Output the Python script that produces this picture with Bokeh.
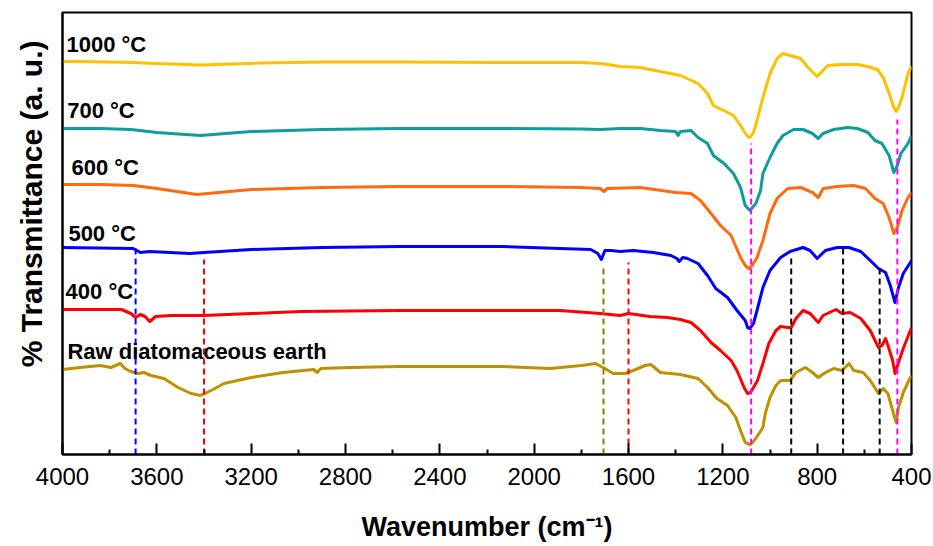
from bokeh.plotting import figure
from bokeh.models import Range1d, FixedTicker, ColumnDataSource, Title
from bokeh.core.properties import value
from bokeh.embed import file_html
from bokeh.resources import INLINE

# ---------------- data (wavenumber cm-1, offset transmittance a.u.) ----------------
wn_1000 = [4000, 3920, 3710, 3600, 3415, 3160, 2900, 2570, 2140, 1800, 1720, 1660, 1635, 1550, 1465,
           1380, 1305, 1265, 1240, 1195, 1155, 1125, 1110, 1095, 1085, 1070, 1055, 1030, 1000, 970,
           945, 915, 870, 835, 800, 775, 755, 700, 630, 585, 545, 520, 495, 475, 465, 455, 440, 415, 400]
t_1000 = [393, 393, 392, 391, 389.5, 391.5, 392.5, 392.5, 392, 392, 391, 389, 388, 387, 383,
          379, 371, 361, 349, 344, 339, 329, 323, 318, 317, 322, 334, 357, 381, 396,
          401, 399, 396, 386, 378, 384, 389, 390, 390, 388, 385, 377, 361, 347, 343, 347, 357, 381, 388]

wn_700 = [4000, 3840, 3710, 3600, 3415, 3200, 2900, 2570, 2140, 1800, 1720, 1635, 1550, 1465, 1400,
          1390, 1380, 1335, 1305, 1265, 1240, 1195, 1155, 1125, 1105, 1085, 1060, 1040, 1030, 1000,
          970, 945, 900, 860, 820, 795, 775, 730, 670, 630, 585, 555, 525, 495, 475, 460, 445, 415, 400]
t_700 = [326, 326, 325, 322, 319, 323, 325, 326, 326, 325.5, 325, 326, 326, 324, 323,
         319, 323, 324, 317, 311, 299, 291, 281, 267, 249, 244, 251, 264, 281, 297,
         311, 319, 325, 325, 321, 316, 321, 325, 327, 326, 322, 314, 311, 299, 282, 289, 301, 311, 319]

wn_600 = [4000, 3840, 3700, 3600, 3430, 3200, 2900, 2570, 2140, 1800, 1720, 1705, 1690, 1550, 1400,
          1335, 1295, 1250, 1210, 1165, 1125, 1105, 1090, 1075, 1055, 1030, 1000, 970, 925, 870,
          820, 795, 775, 715, 645, 595, 555, 520, 495, 475, 460, 440, 415, 400]
t_600 = [270, 270, 269, 266, 260, 265, 267, 268, 268, 267, 266, 263, 266, 267, 262,
         261, 254, 241, 229, 219, 197, 189, 186, 189, 197, 214, 241, 256, 266, 267,
         262, 257, 266, 268, 269, 266, 256, 251, 237, 221, 227, 244, 257, 262]

wn_500 = [4000, 3700, 3670, 3630, 3460, 3400, 3200, 2900, 2570, 2140, 1890, 1760, 1730, 1715, 1700,
          1675, 1635, 1580, 1495, 1420, 1395, 1385, 1370, 1350, 1305, 1265, 1230, 1180, 1140, 1105,
          1095, 1085, 1070, 1055, 1030, 1000, 955, 915, 860, 830, 800, 765, 715, 665, 615,
          575, 540, 510, 490, 470, 455, 435, 405, 400]
t_500 = [207, 206, 202, 203, 201, 202, 205, 207, 208, 208, 206, 205, 201, 195, 204,
         204, 203, 204, 202, 199, 196, 193, 197, 196, 191, 179, 166, 157, 144, 134,
         127, 126, 131, 144, 167, 184, 197, 203, 207, 204, 196, 204, 207, 207, 203,
         194, 186, 182, 169, 152, 167, 181, 192, 194]

wn_400 = [4000, 3750, 3710, 3690, 3670, 3650, 3630, 3605, 3540, 3400, 3200, 2990, 2570, 2355, 1890,
          1720, 1635, 1600, 1510, 1435, 1380, 1335, 1295, 1250, 1210, 1165, 1140, 1110, 1095, 1083,
          1070, 1053, 1030, 1005, 975, 955, 925, 910, 890, 860, 830, 795, 775, 720, 695,
          660, 615, 575, 540, 525, 510, 500, 480, 470, 455, 435, 405, 400]
t_400 = [145, 145, 141, 137, 140, 138, 133, 138, 139, 139, 141, 143, 144, 144, 144,
         141, 139, 141, 138, 137, 135, 132, 124, 112, 104, 94, 84, 67, 61, 62,
         67, 74, 91, 111, 124, 128, 127, 127, 136, 144, 141, 132, 139, 145, 141,
         142, 136, 124, 107, 109, 116, 109, 94, 81, 92, 106, 124, 127]

wn_raw = [4000, 3925, 3840, 3795, 3755, 3735, 3710, 3680, 3655, 3625, 3570, 3510, 3455, 3415, 3370,
          3315, 3200, 3065, 2935, 2920, 2905, 2780, 2570, 2140, 1930, 1800, 1740, 1700, 1665, 1615,
          1580, 1530, 1505, 1465, 1380, 1305, 1265, 1225, 1180, 1145, 1125, 1105, 1085, 1070, 1055,
          1030, 1020, 1000, 975, 955, 915, 890, 850, 820, 795, 765, 730, 695, 665, 645,
          605, 575, 540, 520, 500, 480, 465, 455, 435, 405, 400]
t_raw = [85, 87, 89, 87, 91, 86, 83, 81, 82, 79, 76, 67, 61, 59, 64,
         71, 77, 82, 85, 82, 86, 87, 88, 88, 86, 89, 91, 86, 81, 81,
         84, 89, 90, 82, 80, 76, 67, 56, 49, 37, 24, 12, 10, 13, 18,
         27, 41, 57, 69, 74, 74, 82, 87, 82, 77, 82, 86, 84, 91, 84,
         82, 74, 61, 66, 61, 44, 32, 47, 62, 77, 79]

series_names = ["1000 \u00b0C", "700 \u00b0C", "600 \u00b0C", "500 \u00b0C", "400 \u00b0C",
                "Raw diatomaceous earth"]
series_wn = [wn_1000, wn_700, wn_600, wn_500, wn_400, wn_raw]
series_t = [t_1000, t_700, t_600, t_500, t_400, t_raw]
series_colors = ["#FFC000", "#109C9C", "#FF6A10", "#0000FF", "#FF0000", "#BF9000"]

# marked bands (cm-1), the top of each dashed guide, and its colour
band_wn = [3690, 3400, 1706, 1600, 1080, 460, 910, 690, 535]
band_top = [206, 195, 189, 192, 311, 335, 197, 206, 186]
band_colors = ["#0000FF", "#FF0000", "#808000", "#FF0000", "#FF00FF", "#FF00FF",
               "#000000", "#000000", "#000000"]

x_ticks = [4000, 3600, 3200, 2800, 2400, 2000, 1600, 1200, 800, 400]
x_minor = [3800, 3400, 3000, 2600, 2200, 1800, 1400, 1000, 600]

# label anchor positions (data coords)
label_x = [3983, 3980, 3962, 3975, 3987, 3979]
label_y = [410, 344, 287, 221, 163, 103]

# ---------------- figure ----------------
FONT = "Liberation Sans"
p = figure(width=933, height=546, output_backend="svg", toolbar_location=None,
           x_range=Range1d(4000, 400), y_range=Range1d(0, 442),
           min_border_left=62, min_border_right=22, min_border_top=12, min_border_bottom=92)
p.grid.visible = False
p.outline_line_color = "black"
p.outline_line_width = 2
p.background_fill_color = "white"
p.border_fill_color = "white"

for wn, t, c in zip(series_wn, series_t, series_colors):
    p.line(x=wn, y=t, line_color=c, line_width=3, line_join="round")

src = ColumnDataSource(dict(x=band_wn, y0=[0] * len(band_wn), y1=band_top, c=band_colors))
p.segment(x0="x", y0="y0", x1="x", y1="y1", line_color="c", line_width=2,
          line_dash="6 4", source=src)

lsrc = ColumnDataSource(dict(x=label_x, y=label_y, t=series_names))
p.text(x="x", y="y", text="t", source=lsrc, text_font=value(FONT), text_font_style="bold",
       text_font_size="22px", text_baseline="middle", text_align="left", text_color="black")

xa = p.xaxis[0]
xa.ticker = FixedTicker(ticks=x_ticks, minor_ticks=x_minor)
xa.axis_line_width = 2
xa.axis_line_color = "black"
xa.major_tick_in = 11
xa.major_tick_out = 0
xa.minor_tick_in = 5
xa.minor_tick_out = 0
xa.major_tick_line_width = 2
xa.minor_tick_line_width = 2
xa.major_label_text_font = FONT
xa.major_label_text_font_size = "24px"
xa.major_label_text_color = "black"
xa.major_label_standoff = 13
xa.axis_label = "Wavenumber (cm\u207b\u00b9)"
xa.axis_label_text_font = FONT
xa.axis_label_text_font_style = "bold"
xa.axis_label_text_font_size = "27px"
xa.axis_label_text_color = "black"
xa.axis_label_standoff = 24

ya = p.yaxis[0]
ya.ticker = FixedTicker(ticks=[])
ya.axis_line_width = 2
ya.axis_line_color = "black"
ya.major_tick_in = 0
ya.major_tick_out = 0
ya.minor_tick_in = 0
ya.minor_tick_out = 0
ya.major_label_text_font_size = "0px"

# y title as a side title, shifted toward the top like the original
p.add_layout(Title(text="% Transmittance (a. u.)", align="right", offset=28,
                   vertical_align="top", standoff=26, text_font=FONT,
                   text_font_style="bold", text_font_size="30px", text_color="black"), "left")

open("out.html", "w").write(file_html(p, INLINE))
